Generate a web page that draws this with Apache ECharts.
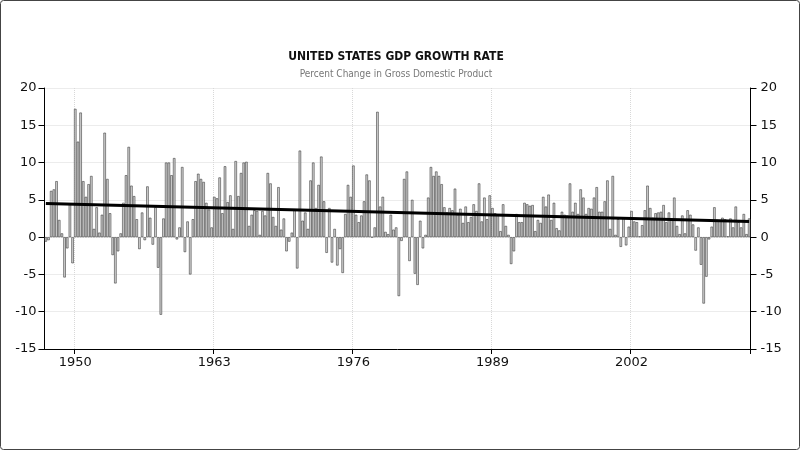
<!DOCTYPE html>
<html>
<head>
<meta charset="utf-8">
<script src="https://cdn.jsdelivr.net/npm/echarts@6/dist/echarts.min.js"></script>
<style>
html,body{margin:0;padding:0;background:#fff;}
#chart{width:800px;height:450px;}
</style>
</head>
<body>
<div id="chart"></div>
<script>
// Quarterly data, 1947 Q2 .. 2013 Q1 (annualized % change)
var startYear = 1947, startQuarter = 2;
var gdpGrowth = [
  -0.6, -0.4, 6.2,
  6.4, 7.5, 2.3, 0.5,
  -5.4, -1.5, 4.4, -3.5,
  17.2, 12.8, 16.7, 7.5,
  5.4, 7.1, 8.2, 1.1,
  4.0, 0.6, 3.0, 14.0,
  7.8, 3.2, -2.4, -6.2,
  -1.9, 0.5, 4.6, 8.3,
  12.1, 6.9, 5.5, 2.4,
  -1.6, 3.3, -0.4, 6.8,
  2.6, -1.0, 4.0, -4.1,
  -10.4, 2.5, 10.0, 10.0,
  8.3, 10.6, -0.3, 1.3,
  9.4, -2.0, 2.1, -5.0,
  2.4, 7.5, 8.5, 7.8,
  7.4, 4.6, 3.7, 1.3,
  5.4, 5.2, 8.0, 3.2,
  9.5, 4.7, 5.6, 1.1,
  10.2, 5.5, 8.6, 10.0,
  10.1, 1.5, 3.0, 3.6,
  3.5, 0.3, 3.5, 2.9,
  8.6, 7.2, 2.7, 1.5,
  6.7, 1.0, 2.5, -1.9,
  -0.6, 0.6, 3.6, -4.2,
  11.6, 2.2, 3.3, 1.1,
  7.6, 10.0, 3.9, 7.0,
  10.8, 4.8, -2.1, 3.9,
  -3.4, 1.1, -3.8, -1.6,
  -4.8, 3.1, 7.0, 5.4,
  9.6, 3.0, 2.0, 2.9,
  4.8, 8.4, 7.6, 0.0,
  1.3, 16.8, 4.1, 5.4,
  0.7, 0.4, 3.0, 1.0,
  1.3, -7.9, -0.5, 7.8,
  8.8, -3.2, 5.0, -4.9,
  -6.4, 2.2, -1.5, 0.3,
  5.3, 9.4, 8.2, 8.8,
  8.2, 7.1, 4.0, 3.3,
  3.9, 3.6, 6.5, 3.0,
  3.8, 1.9, 4.1, 2.0,
  2.7, 4.4, 3.5, 7.2,
  2.1, 5.3, 2.4, 5.6,
  3.9, 3.2, 3.0, 0.8,
  4.4, 1.5, 0.3, -3.6,
  -1.9, 3.1, 2.0, 2.0,
  4.6, 4.4, 4.2, 4.3,
  0.8, 2.3, 1.9, 5.4,
  4.1, 5.7, 2.3, 4.6,
  1.2, 0.9, 3.4, 3.0,
  2.9, 7.2, 3.4, 4.6,
  3.1, 6.4, 5.3, 3.1,
  3.9, 3.8, 5.3, 6.7,
  3.4, 3.4, 4.8, 7.6,
  1.1, 8.2, 0.3, 2.4,
  -1.3, 2.6, -1.1, 1.4,
  3.5, 2.1, 2.0, 0.1,
  1.6, 3.6, 6.9, 3.9,
  2.6, 3.2, 3.3, 3.4,
  4.3, 2.0, 3.3, 2.3,
  5.3, 1.5, 0.4, 2.9,
  0.5, 3.6, 3.0, 1.7,
  -1.8, 1.3, -3.7, -8.9,
  -5.3, -0.3, 1.4, 4.0,
  2.3, 2.2, 2.6, 2.4,
  0.1, 2.5, 1.3, 4.1,
  2.0, 1.3, 3.1, 0.4,
  2.5
];
var trendValues = [4.5, 2.1];          // linear trend at first and last quarter
var xTickYears = [1950, 1963, 1976, 1989, 2002];
var titleText = 'UNITED STATES GDP GROWTH RATE';
var subtitleText = 'Percent Change in Gross Domestic Product';

// category labels "YYYY Qn"
var categories = [];
(function(){
  var y = startYear, q = startQuarter;
  for (var i = 0; i < gdpGrowth.length; i++) {
    categories.push(y + ' Q' + q);
    q++; if (q > 4) { q = 1; y++; }
  }
})();

function isTick(idx, val) {
  var parts = String(val).split(' Q');
  return parts[1] === '1' && xTickYears.indexOf(parseInt(parts[0], 10)) >= 0;
}

var chart = echarts.init(document.getElementById('chart'), null, {renderer: 'canvas'});
var FONT = 'DejaVu Sans';

var option = {
  animation: false,
  backgroundColor: '#ffffff',
  textStyle: {fontFamily: FONT},
  grid: {left: 44.5, right: 49.5, top: 88, bottom: 101, containLabel: false},
  graphic: [
    {type: 'rect', shape: {x: 0.5, y: 0.5, width: 799, height: 449, r: 3},
     style: {fill: 'none', stroke: '#444', lineWidth: 1}, silent: true, z: 100},
    {type: 'text', x: 396, y: 57, style: {text: titleText, fill: '#111',
      font: 'bold 12px "DejaVu Sans Condensed", "DejaVu Sans"', align: 'center', verticalAlign: 'middle'}},
    {type: 'text', x: 396, y: 74, style: {text: subtitleText, fill: '#777',
      font: '10px "DejaVu Sans Condensed", "DejaVu Sans"', align: 'center', verticalAlign: 'middle'}}
  ],
  xAxis: {
    type: 'category',
    data: categories,
    boundaryGap: true,
    axisLine: {show: true, onZero: false, lineStyle: {color: '#000', width: 1}},
    axisTick: {show: true, interval: isTick, length: 5, lineStyle: {color: '#000'}},
    axisLabel: {interval: isTick, color: '#111', fontSize: 13, margin: 7,
      formatter: function(v){ return String(v).split(' Q')[0]; }},
    splitLine: {show: true, interval: isTick, lineStyle: {color: '#d8d8d8', type: 'dotted', width: 1}}
  },
  yAxis: [
    {type: 'value', position: 'left', min: -15, max: 20, interval: 5,
     axisLine: {show: true, lineStyle: {color: '#000'}},
     axisTick: {show: true, length: 6, lineStyle: {color: '#000'}},
     axisLabel: {color: '#111', fontSize: 13, margin: 8},
     splitLine: {show: true, lineStyle: {color: '#d8d8d8', type: 'dotted'}}},
    {type: 'value', position: 'right', min: -15, max: 20, interval: 5,
     axisLine: {show: true, lineStyle: {color: '#000'}},
     axisTick: {show: true, length: 6, lineStyle: {color: '#000'}},
     axisLabel: {color: '#111', fontSize: 13, margin: 10},
     splitLine: {show: false}}
  ],
  series: [{
    type: 'bar',
    data: gdpGrowth,
    barCategoryGap: '10%',
    itemStyle: {color: '#cfcfcf', borderColor: '#222', borderWidth: 0.5},
    markLine: {
      silent: true, symbol: 'none', animation: false,
      label: {show: false},
      lineStyle: {color: '#000', width: 3, type: 'solid'},
      data: [[
        {coord: [categories[0], trendValues[0]]},
        {coord: [categories[categories.length - 1], trendValues[1]]}
      ]]
    }
  }]
};
chart.setOption(option);
</script>
</body>
</html>
